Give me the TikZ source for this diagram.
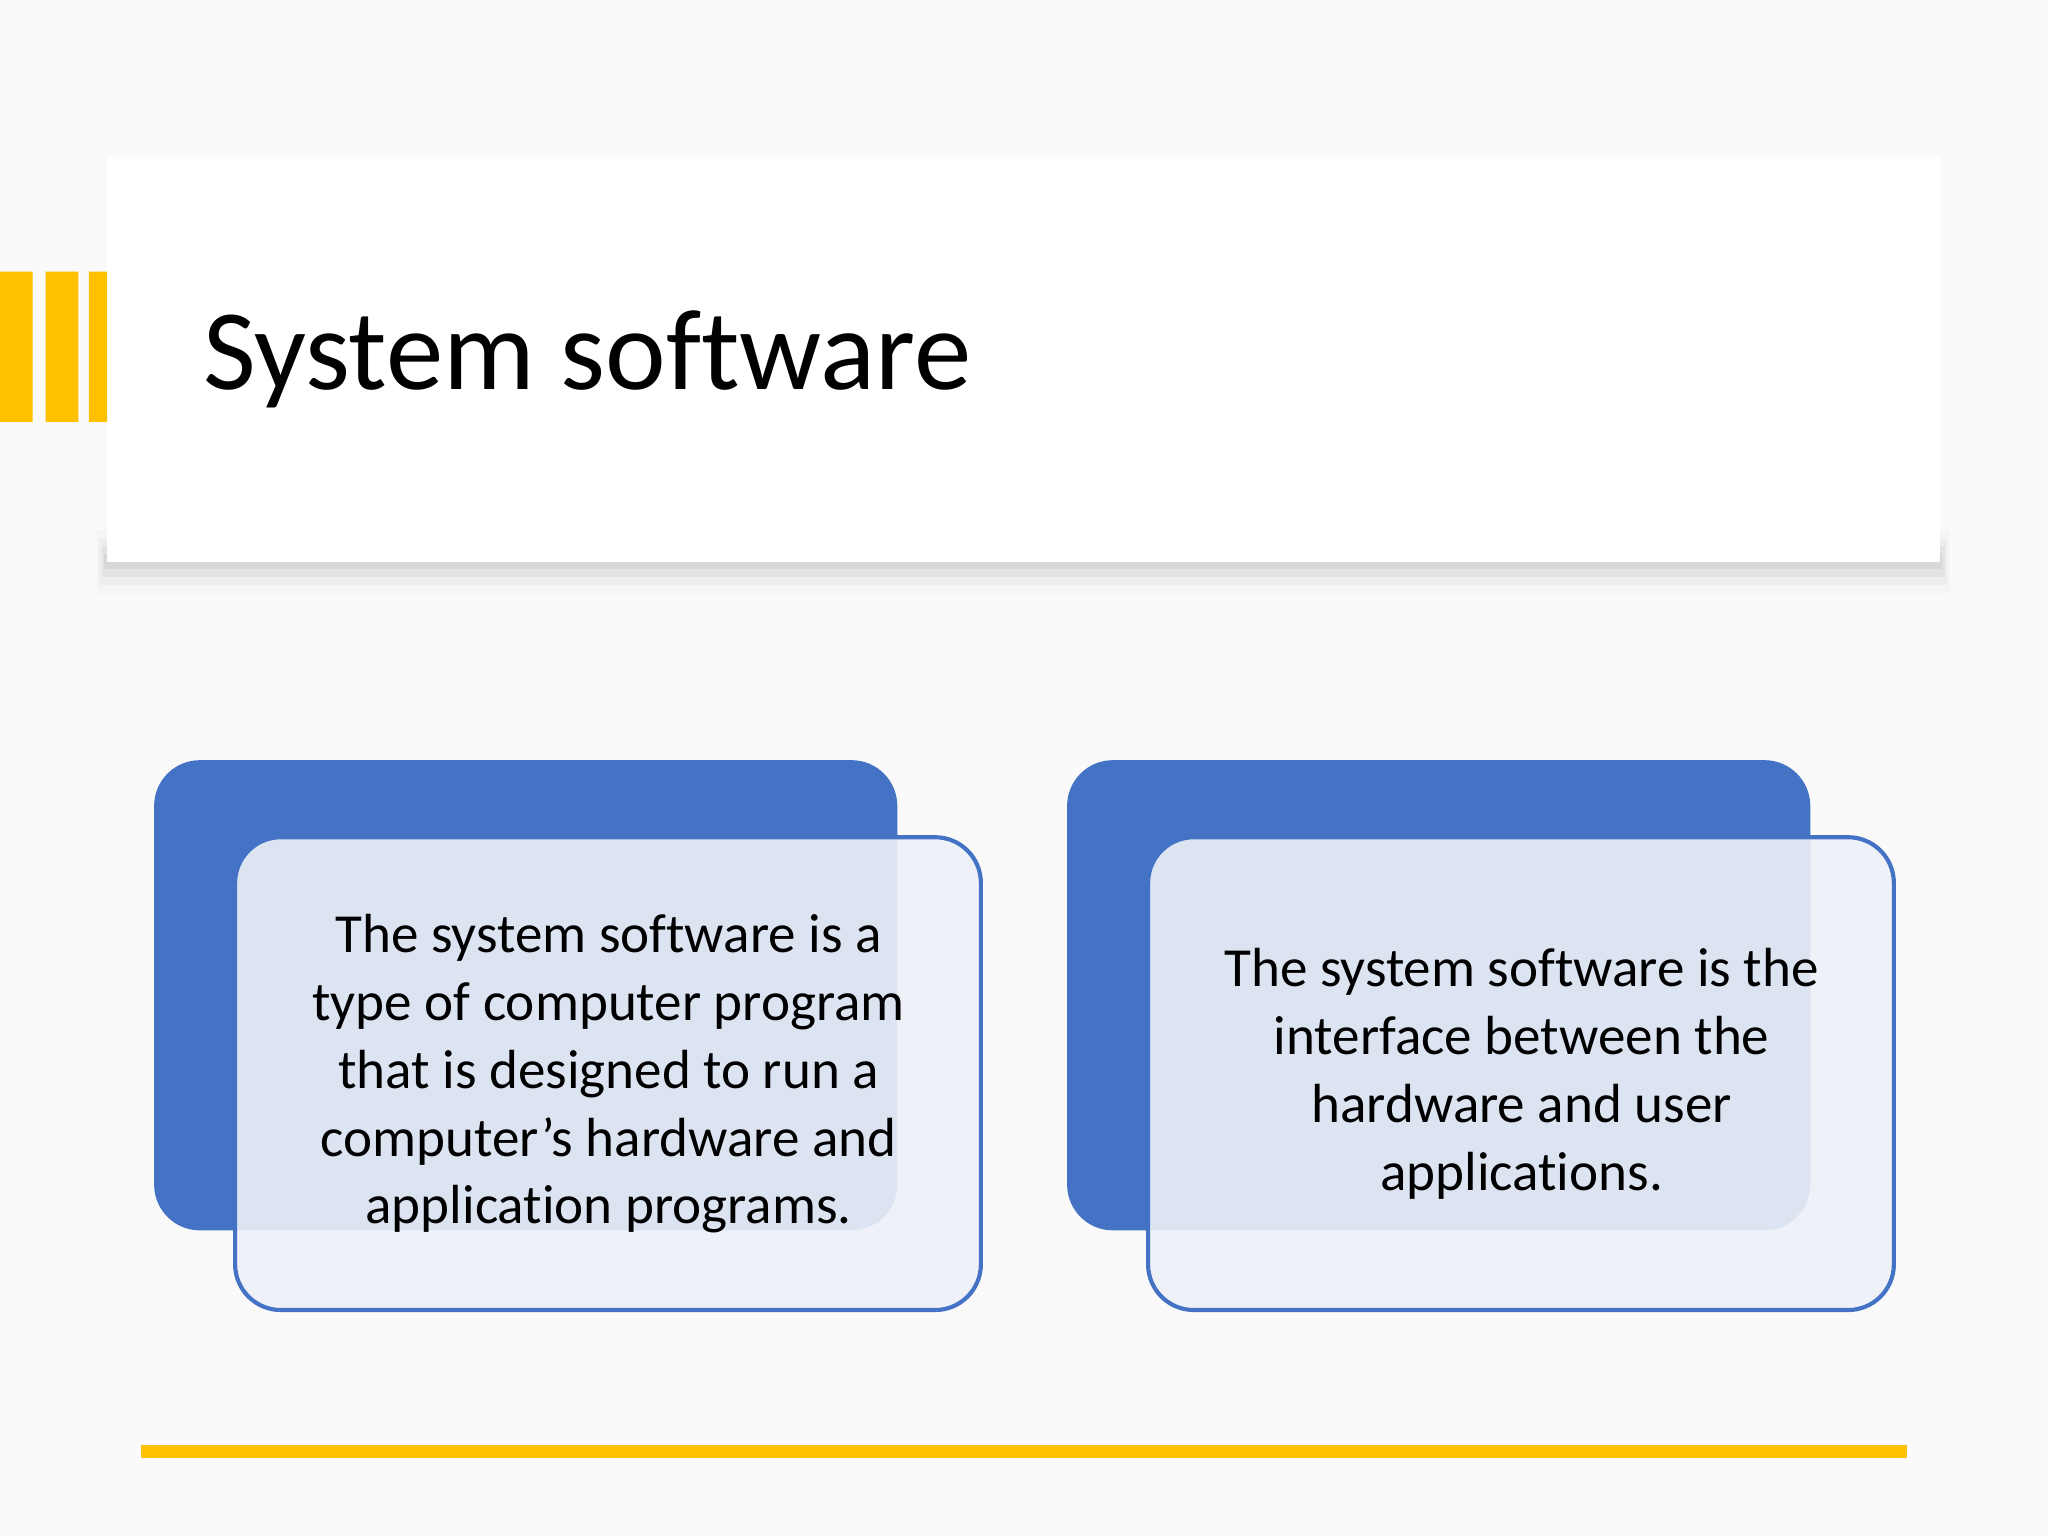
\documentclass[tikz,border=0pt]{standalone}
\usepackage{fontspec}
\setmainfont{Carlito}[Ligatures=NoCommon]
\definecolor{accent}{HTML}{FFC000}
\definecolor{boxblue}{HTML}{4472C4}
\definecolor{boxfill}{HTML}{EDF1F8}
\definecolor{slidebg}{HTML}{FAFAFA}
\tikzset{
  backbox/.style={fill=boxblue, rounded corners=0.35cm},
  frontbox/.style={fill=boxfill, fill opacity=0.9, draw=boxblue, line width=0.9pt, rounded corners=0.35cm},
  bodytext/.style={align=center, font=\fontsize{12}{14.8}\selectfont}
}
\begin{document}
\begin{tikzpicture}[x=0.01cm, y=-0.01cm]
\useasboundingbox (0,0) rectangle (1568,1176);
\fill[slidebg] (0,0) rectangle (1568,1176);
% title card with shadow
\foreach \d/\o in {24/0.02, 18/0.03, 12/0.04, 6/0.05}
  \fill[black, opacity=\o] ({82-\d/3},{430-\d}) rectangle ({1485+\d/3},{430+\d});
\fill[white] (82,120) rectangle (1485,430);
\fill[accent] (0,208) rectangle (25,323) (35,208) rectangle (60,323) (68,208) rectangle (82,323);
\node[anchor=base west, font=\fontsize{25}{30}\selectfont] (title) at (143,298) {System software};
% left pair
\fill[backbox] (118,582) rectangle (687,942);
\draw[frontbox] (180,641) rectangle (751,1003);
\node[bodytext] (leftText) at (466,822) {The system software is a\\type of computer program\\that is designed to run a\\computer’s hardware and\\application programs.};
% right pair
\fill[backbox] (817,582) rectangle (1386,942);
\draw[frontbox] (879,641) rectangle (1450,1003);
\node[bodytext] (rightText) at (1165,822) {The system software is the\\interface between the\\hardware and user\\applications.};
% bottom rule
\fill[accent] (108,1106) rectangle (1460,1116);
\end{tikzpicture}
\end{document}
